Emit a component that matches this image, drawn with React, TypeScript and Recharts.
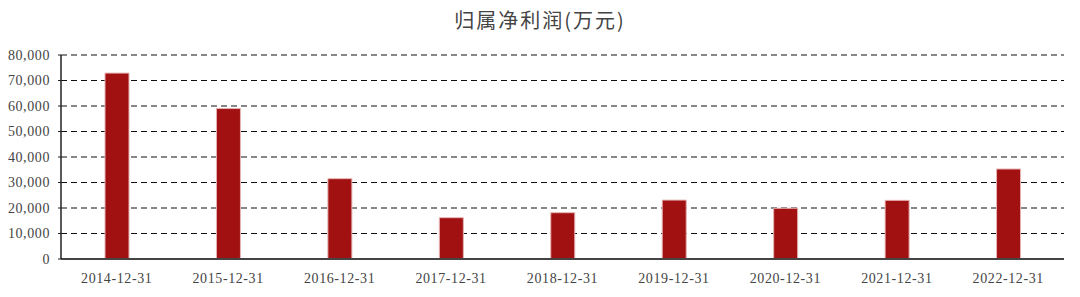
import React from "react";
import { BarChart, Bar, XAxis, YAxis, CartesianGrid } from "recharts";

const categories = [
  "2014-12-31",
  "2015-12-31",
  "2016-12-31",
  "2017-12-31",
  "2018-12-31",
  "2019-12-31",
  "2020-12-31",
  "2021-12-31",
  "2022-12-31",
];
const profitValues = [72900, 59000, 31500, 16200, 18150, 23100, 19900, 23000, 35300];
const yTicks = [0, 10000, 20000, 30000, 40000, 50000, 60000, 70000, 80000];
const titleText = "归属净利润(万元)";

const data = categories.map((c, i) => ({ date: c, value: profitValues[i] }));

const fmt = (v: number) => v.toLocaleString("en-US");

const tickFont = {
  fontFamily: "'Liberation Serif', 'DejaVu Serif', serif",
  fontSize: 14,
  fill: "#444",
  letterSpacing: 0.6,
};

export default function App() {
  return (
    <div style={{ position: "absolute", left: 0, top: 0, width: 1080, height: 297, background: "#fff" }}>
      <div
        style={{
          position: "absolute",
          left: 0,
          top: 6,
          width: 1080,
          textAlign: "center",
          fontFamily: "'Noto Sans CJK SC', sans-serif",
          fontSize: 20,
          letterSpacing: 2,
          color: "#444",
          lineHeight: "28px",
        }}
      >
        {titleText}
      </div>
      <BarChart
        width={1080}
        height={297}
        data={data}
        margin={{ top: 55, right: 16, bottom: 8, left: 0 }}
        barCategoryGap={0}
      >
        <CartesianGrid
          horizontal={true}
          vertical={false}
          stroke="#111"
          strokeWidth={1.2}
          strokeDasharray="6 4"
        />
        <XAxis
          dataKey="date"
          tickLine={false}
          axisLine={{ stroke: "#444", strokeWidth: 2 }}
          tick={tickFont}
          tickMargin={8}
          height={30}
          interval={0}
        />
        <YAxis
          domain={[0, 80000]}
          ticks={yTicks}
          tickFormatter={fmt}
          width={61}
          tickSize={3}
          tickMargin={8}
          tickLine={{ stroke: "#222" }}
          axisLine={{ stroke: "#222", strokeWidth: 1.5 }}
          tick={tickFont}
          interval={0}
        />
        <Bar
          dataKey="value"
          fill="#a11111"
          stroke="#e6b3b3"
          strokeWidth={1}
          barSize={24}
          isAnimationActive={false}
        />
      </BarChart>
    </div>
  );
}
